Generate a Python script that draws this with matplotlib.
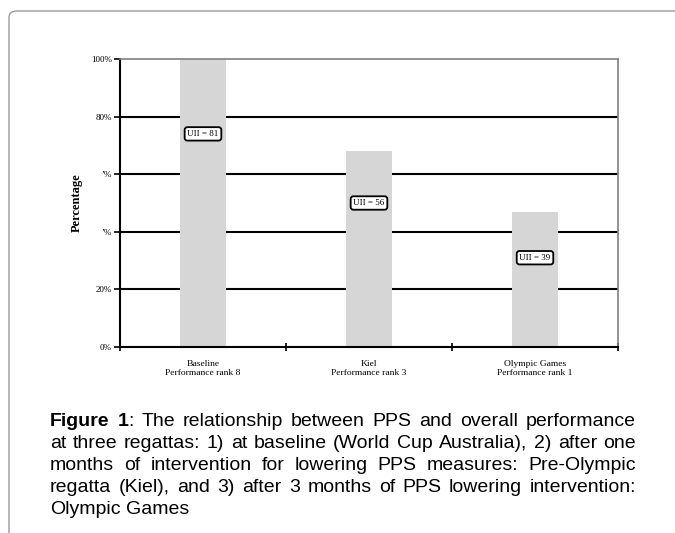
import matplotlib
matplotlib.use("Agg")
import matplotlib.pyplot as plt
from matplotlib.patches import FancyBboxPatch

# data
categories = ["Baseline\nPerformance rank 8", "Kiel\nPerformance rank 3", "Olympic Games\nPerformance rank 1"]
percent = [100, 68, 47]
ui_labels = ["UII = 81", "UII = 56", "UII = 39"]
ui_y = [74, 50, 31]
ytick_vals = [0, 20, 40, 60, 80, 100]
ytick_text = ["0%", "20%", "\u02bc%", "\u02bc%", "80%", "100%"]

caption = [
    [[("Figure", "bold")], [("1", "bold"), (":", "normal")], "The relationship between PPS and overall performance"],
    ["at three regattas: 1) at baseline (World Cup Australia), 2) after one"],
    ["months of intervention for lowering PPS measures: Pre-Olympic"],
    ["regatta (Kiel), and 3) after 3 months of PPS lowering intervention:"],
    ["Olympic Games"],
]

W, H = 675, 533
fig = plt.figure(figsize=(W / 100, H / 100), dpi=100)

# outer rounded frame
frame = FancyBboxPatch((9 / W, -0.05), 1.0, 1 - 11 / H + 0.05,
                       boxstyle="round,pad=0,rounding_size=0.012",
                       transform=fig.transFigure, fill=False,
                       edgecolor="#9a9a9a", linewidth=1.0)
fig.patches.append(frame)

# plot area
x0, x1, ytop, ybot = 120, 618, 59, 347
ax = fig.add_axes([x0 / W, 1 - ybot / H, (x1 - x0) / W, (ybot - ytop) / H])
ax.set_xlim(-0.5, 2.5)
ax.set_ylim(0, 100)

serif = "Liberation Serif"
for v in ytick_vals[1:-1]:
    ax.axhline(v, color="black", linewidth=1.5, zorder=1)

xs = range(len(categories))
ax.bar(xs, percent, width=0.28, color="#d6d6d6", zorder=2)

for x, lab, y in zip(xs, ui_labels, ui_y):
    ax.text(x, y, lab, ha="center", va="center", fontsize=6.5, family=serif,
            zorder=3,
            bbox=dict(boxstyle="round,pad=0.3,rounding_size=0.3", fc="white",
                      ec="black", lw=1.3))

for s in ["top", "right"]:
    ax.spines[s].set_color("#808080")
    ax.spines[s].set_linewidth(1.2)
for s in ["left", "bottom"]:
    ax.spines[s].set_color("black")
    ax.spines[s].set_linewidth(1.5)

ax.set_yticks(ytick_vals)
ax.set_yticklabels(ytick_text, family=serif, fontsize=6.5)
ax.tick_params(axis="y", direction="out", length=4, width=1.2, pad=2)

ax.set_xticks(list(xs))
ax.set_xticklabels(categories, family=serif, fontsize=6.8, linespacing=1.3)
ax.tick_params(axis="x", which="major", length=0, pad=9)
ax.set_xticks([-0.5, 0.5, 1.5, 2.5], minor=True)
ax.tick_params(axis="x", which="minor", direction="inout", length=6, width=1.2)

ax.set_ylabel("Percentage", family=serif, fontsize=9, fontweight="bold", labelpad=6)

# caption, justified
left, right = 50, 636
line_y = [421, 443, 466, 488, 510]
fs = 14
renderer = fig.canvas.get_renderer()


def measure(t, weight):
    tt = fig.text(0, 0, t, fontsize=fs, family="Liberation Sans", fontweight=weight)
    w = tt.get_window_extent(renderer).width
    tt.remove()
    return w


space = measure("a b", "normal") - measure("ab", "normal")
for i, line in enumerate(caption):
    words = []
    for item in line:
        if isinstance(item, str):
            words += [[(w, "normal")] for w in item.split()]
        else:
            words.append(item)
    widths = [sum(measure(t, wt) for t, wt in wd) for wd in words]
    last = i == len(caption) - 1
    gap = space if last else (right - left - sum(widths)) / (len(words) - 1)
    x = left
    for wd, wdw in zip(words, widths):
        px = x
        for t, wt in wd:
            fig.text(px / W, 1 - line_y[i] / H, t, fontsize=fs, family="Liberation Sans",
                     fontweight=wt, va="center", ha="left")
            px += measure(t, wt)
        x += wdw + gap

fig.savefig("out.png", dpi=100)
